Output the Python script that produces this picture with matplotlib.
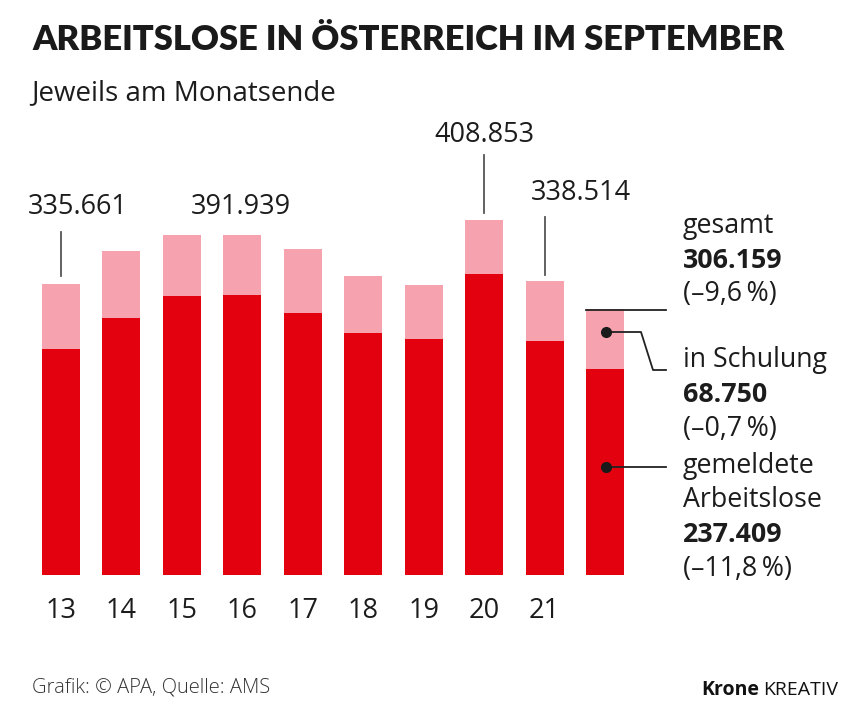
import matplotlib
matplotlib.use("Agg")
import matplotlib.pyplot as plt
from matplotlib.lines import Line2D

# ---- data ----
years = ["13", "14", "15", "16", "17", "18", "19", "20", "21", "22"]
gemeldete = [260400, 296500, 321500, 323000, 302300, 279200, 272300, 346900, 269300, 237409]
gesamt = [335661, 373700, 391939, 391500, 375300, 344600, 334200, 408853, 338514, 306159]
schulung = [g - a for g, a in zip(gesamt, gemeldete)]
shown_years = years[:-1]
value_labels = {0: "335.661", 3: "391.939", 7: "408.853", 8: "338.514"}

DARK = "#E3000F"
PINK = "#F7A3AF"
TXT = "#1c1c1c"
FONT = "Open Sans"

W, H = 855, 728
fig = plt.figure(figsize=(W / 100, H / 100), dpi=100)

# axes spanning the full figure, limits chosen so data map onto the reference pixels
pitch = 60.44
x0 = 61.0
scale = 0.0008678  # px per person
base = 575.0
ax = fig.add_axes([0, 0, 1, 1])
ax.set_xlim(-x0 / pitch, (W - x0) / pitch)
ax.set_ylim(-(H - base) / scale, base / scale)
ax.axis("off")

xs = list(range(len(years)))
bw = 38 / pitch
ax.bar(xs, gemeldete, width=bw, color=DARK, linewidth=0)
ax.bar(xs, schulung, bottom=gemeldete, width=bw, color=PINK, linewidth=0)

def px(x, y):
    return x / W, 1 - y / H

def ftext(x, y, s, **kw):
    kw.setdefault("family", FONT)
    kw.setdefault("color", TXT)
    return fig.text(*px(x, y), s, **kw)

def fline(xl, yl, **kw):
    kw.setdefault("color", "#333333")
    kw.setdefault("lw", 1.3)
    fig.add_artist(Line2D([x / W for x in xl], [1 - y / H for y in yl], **kw))

# title and subtitle
ftext(32, 40, "ARBEITSLOSE IN ÖSTERREICH IM SEPTEMBER", fontsize=24.8,
      fontweight="heavy", family="Lato", va="center", ha="left", color="#1a1a1a")
ftext(31, 93, "Jeweils am Monatsende", fontsize=20, va="center", ha="left")

# year labels
for i, y in enumerate(shown_years):
    xp = x0 + pitch * i
    ftext(xp, 611, y, fontsize=19.5, ha="center", va="center")

# value labels
label_pos = {0: (78, 207), 3: (241, 207), 7: (484, 135), 8: (581, 193)}
for i, s in value_labels.items():
    lx, ly = label_pos[i]
    ftext(lx, ly, s, fontsize=19.5, ha="center", va="center")
fline([61, 61], [232, 276], color="#555555")
fline([484, 484], [155, 213], color="#555555")
fline([545, 545], [217, 275], color="#555555")

# right-hand annotations
fline([586, 666], [309.5, 309.5], color="#222222")
dot = dict(marker="o", markersize=7, color="#1a1a1a")
fline([606, 641, 653, 666], [332, 332, 370, 370], color="#222222")
fig.add_artist(Line2D([606 / W], [1 - 332 / H], **dot))
fline([606, 666], [466.5, 466.5], color="#222222")
fig.add_artist(Line2D([606 / W], [1 - 466.5 / H], **dot))

tx = 683
fs = 19.3
ftext(tx, 226, "gesamt", fontsize=fs, va="center")
ftext(tx, 261, "306.159", fontsize=fs, fontweight="bold", va="center")
ftext(tx, 294, "(\u20139,6\u2009%)", fontsize=fs, va="center")
ftext(tx, 360, "in Schulung", fontsize=fs, va="center")
ftext(tx, 395, "68.750", fontsize=fs, fontweight="bold", va="center")
ftext(tx, 429, "(\u20130,7\u2009%)", fontsize=fs, va="center")
ftext(tx, 466, "gemeldete", fontsize=fs, va="center")
ftext(tx, 500, "Arbeitslose", fontsize=fs, va="center")
ftext(tx, 535, "237.409", fontsize=fs, fontweight="bold", va="center")
ftext(tx, 569, "(\u201311,8\u2009%)", fontsize=fs, va="center")

# footer
ftext(32, 688, "Grafik: \u00a9 APA, Quelle: AMS", fontsize=14.5, va="center",
      fontweight="light", color="#333333")
ftext(838, 690, "KREATIV", fontsize=14, ha="right", va="center", color="#111111")
ftext(759, 690, "Krone", fontsize=14, fontweight="bold", ha="right", va="center",
      color="#111111")

fig.savefig("out.png", dpi=100, facecolor="white")
